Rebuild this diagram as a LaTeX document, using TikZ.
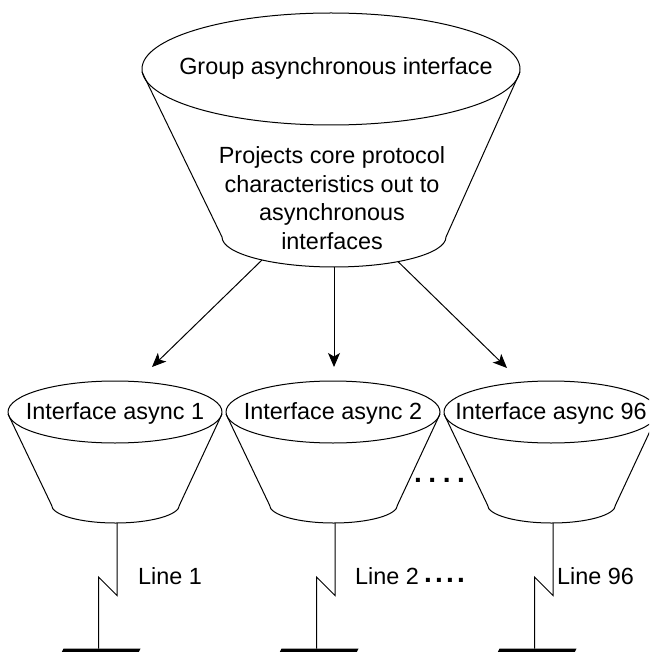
\documentclass[tikz,border=0pt]{standalone}
\usepackage{fontspec}
\setmainfont{Liberation Sans}
\usetikzlibrary{arrows.meta}
\begin{document}
\begin{tikzpicture}[x=1pt,y=-1pt,
  funnelline/.style={draw=black,line width=1pt,line join=round},
  caption/.style={font=\fontsize{23.4}{28.6}\selectfont,inner sep=0pt},
  feed/.style={draw=black,line width=1pt,-{Stealth[length=14pt,width=12pt,inset=3.5pt]}},
  dotrow/.style={font=\fontsize{28}{28}\selectfont\bfseries,inner sep=0pt},
  lineseg/.style={draw=black,line width=1pt,line join=miter},
  padbar/.style={fill=black}]

\useasboundingbox (0,0) rectangle (649,652);
\clip (0,0) rectangle (649,652);

% group asynchronous interface funnel
\draw[funnelline] (142,72) -- (222,237)
  .. controls (222,253.6) and (272.2,267) .. (334,267)
  .. controls (395.8,267) and (446,253.6) .. (446,237) -- (520,72);
\draw[funnelline] (331,69) ellipse [x radius=189pt, y radius=56pt];
\node[caption,anchor=base] (gtitle) at (336,75) {Group asynchronous interface};
\node[caption,align=center] (gdesc) at (332,198)
  {Projects core protocol\\characteristics out to\\asynchronous\\interfaces};

% arrow start points on the bottom rim
\coordinate (gL) at (262,260);
\coordinate (gM) at (334,267);
\coordinate (gR) at (398,261.6);

% member interface funnels, serial lines and pads
\foreach \cx/\n/\nm/\lx in {115/1/f1/138, 333/2/f2/355, 551/96/f3/557} {
  \draw[funnelline] (\cx-107,414) -- (\cx-63.5,505)
    .. controls (\cx-63.5,514.9) and (\cx-35,523) .. (\cx+0.5,523)
    .. controls (\cx+36,523) and (\cx+64.5,514.9) .. (\cx+64.5,505) -- (\cx+107,414);
  \draw[funnelline] (\cx,412) ellipse [x radius=107pt, y radius=31pt];
  \node[caption,anchor=base] (\nm title) at (\cx,419) {Interface async \n};
  \coordinate (\nm top) at (\cx,381);
  \coordinate (\nm bot) at (\cx+2,523);
  \coordinate (\nm pad) at (\cx-16.5,648.5);
  \draw[lineseg] (\nm bot) -- ++(0,72.5) -- ++(-18.5,-18.5) -- (\nm pad);
  \fill[padbar] ([xshift=-35pt]\nm pad) -- ([xshift=42pt]\nm pad)
    -- ([xshift=38pt,yshift=-8pt]\nm pad) -- ([xshift=-39pt,yshift=-8pt]\nm pad) -- cycle;
  \node[caption,anchor=base west] (\nm line) at (\lx,584) {Line \n};
}

% arrow end points above the member funnels
\coordinate (a1) at (152,367);
\coordinate (a2) at (334,367);
\coordinate (a3) at (507,368);
\draw[feed] (gL) -- (a1);
\draw[feed] (gM) -- (a2);
\draw[feed] (gR) -- (a3);

% ellipsis marks
\node[dotrow] (gapdots) at (439.5,480) {.\hspace{6.5pt}.\hspace{6.5pt}.\hspace{6.5pt}.};
\node[dotrow] (linedots) at (444.5,580) {.\hspace{3.2pt}.\hspace{3.2pt}.\hspace{3.2pt}.};
\end{tikzpicture}
\end{document}
